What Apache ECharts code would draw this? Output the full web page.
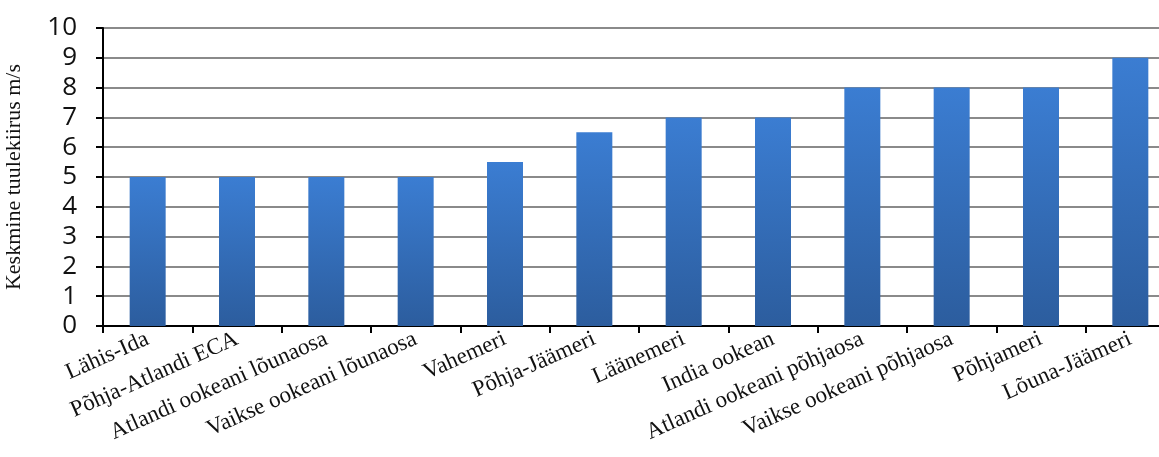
<!DOCTYPE html>
<html>
<head>
<meta charset="utf-8">
<script src="https://cdn.jsdelivr.net/npm/echarts@6/dist/echarts.min.js"></script>
<style>html,body{margin:0;padding:0;background:#fff}#c{width:1159px;height:457px}</style>
</head>
<body>
<div id="c"></div>
<script>
const categories = ["Lähis-Ida", "Põhja-Atlandi ECA", "Atlandi ookeani lõunaosa", "Vaikse ookeani lõunaosa", "Vahemeri", "Põhja-Jäämeri", "Läänemeri", "India ookean", "Atlandi ookeani põhjaosa", "Vaikse ookeani põhjaosa", "Põhjameri", "Lõuna-Jäämeri"];
const windSpeed = [5, 5, 5, 5, 5.5, 6.5, 7, 7, 8, 8, 8, 9];
const yTicks = [0, 10, 1];
const yAxisTitle = "Keskmine tuulekiirus m/s";

const chart = echarts.init(document.getElementById('c'));
chart.setOption({
  animation: false,
  grid: { left: 103, width: 1072, top: 28, bottom: 131, containLabel: false, outerBoundsMode: 'none' },
  xAxis: {
    type: 'category',
    data: categories,
    boundaryGap: true,
    axisLine: { lineStyle: { color: '#000', width: 2 } },
    axisTick: { show: true, length: 7, lineStyle: { color: '#000', width: 2 } },
    axisLabel: { rotate: 24, fontFamily: 'Liberation Serif', fontSize: 23, color: '#111', margin: 12, interval: 0 }
  },
  yAxis: {
    type: 'value',
    min: yTicks[0], max: yTicks[1], interval: yTicks[2],
    name: yAxisTitle,
    nameLocation: 'middle',
    nameGap: 78,
    nameTextStyle: { fontFamily: 'Liberation Serif', fontSize: 22, color: '#111' },
    axisLine: { show: true, lineStyle: { color: '#000', width: 2 } },
    axisTick: { show: true, length: 7, lineStyle: { color: '#000', width: 2 } },
    axisLabel: { fontFamily: 'Open Sans', fontSize: 26, color: '#111', margin: 26 },
    splitLine: { lineStyle: { color: '#8a8a8a', width: 2 } }
  },
  series: [{
    type: 'bar',
    data: windSpeed,
    barWidth: 36,
    itemStyle: {
      color: new echarts.graphic.LinearGradient(0, 0, 0, 1, [
        { offset: 0, color: '#3b7dd2' },
        { offset: 1, color: '#2c5d9e' }
      ])
    }
  }]
});
</script>
</body>
</html>
